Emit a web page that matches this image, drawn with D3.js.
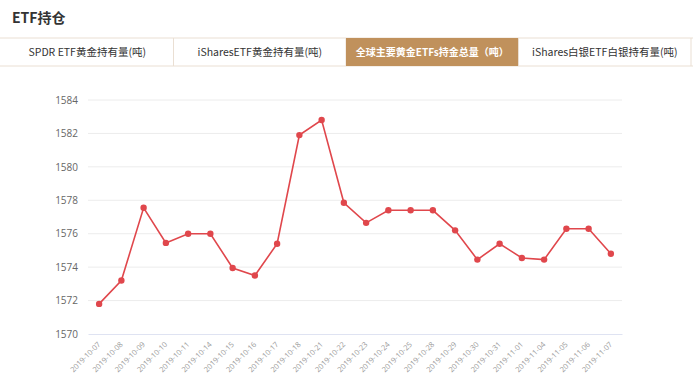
<!DOCTYPE html>
<html lang="zh">
<head>
<meta charset="UTF-8" />
<title>ETF持仓</title>
<style>
  body { margin: 0; background: #fff; font-family: "Noto Sans CJK SC", "Noto Sans", sans-serif; }
</style>
</head>
<body>
<svg id="chart" width="693" height="392"></svg>
<script src="https://d3js.org/d3.v7.min.js"></script>
<script>
  // data
  const tabs = ["SPDR ETF黄金持有量(吨)", "iSharesETF黄金持有量(吨)", "全球主要黄金ETFs持金总量（吨）", "iShares白银ETF白银持有量(吨)"];
  const dates = ["2019-10-07", "2019-10-08", "2019-10-09", "2019-10-10", "2019-10-11", "2019-10-14",
    "2019-10-15", "2019-10-16", "2019-10-17", "2019-10-18", "2019-10-21", "2019-10-22",
    "2019-10-23", "2019-10-24", "2019-10-25", "2019-10-28", "2019-10-29", "2019-10-30",
    "2019-10-31", "2019-11-01", "2019-11-04", "2019-11-05", "2019-11-06", "2019-11-07"];
  const holdings = [1571.8, 1573.2, 1577.55, 1575.45, 1576.0, 1576.0,
    1573.95, 1573.5, 1575.4, 1581.9, 1582.8, 1577.85,
    1576.65, 1577.4, 1577.4, 1577.4, 1576.2, 1574.45,
    1575.4, 1574.55, 1574.45, 1576.3, 1576.3, 1574.8];
  const yTicks = [1570, 1572, 1574, 1576, 1578, 1580, 1582, 1584];

  const svg = d3.select("#chart");

  // header
  svg.append("text")
    .attr("x", 12).attr("y", 23)
    .attr("font-size", "14px").attr("font-weight", "bold")
    .attr("fill", "#333")
    .text("ETF持仓");

  // tabs
  const tabX = d3.scaleBand().domain(d3.range(tabs.length)).range([1, 691]);
  const tabTop = 38, tabH = 28;
  svg.append("line").attr("x1", 0).attr("x2", 693).attr("y1", tabTop).attr("y2", tabTop)
    .attr("stroke", "#eadfd3");
  svg.append("line").attr("x1", 0).attr("x2", 693).attr("y1", tabTop + tabH).attr("y2", tabTop + tabH)
    .attr("stroke", "#eadfd3");
  const tab = svg.selectAll(".tab").data(tabs).enter().append("g").attr("class", "tab");
  tab.append("rect")
    .attr("x", (d, i) => tabX(i))
    .attr("y", tabTop)
    .attr("width", tabX.bandwidth())
    .attr("height", tabH)
    .attr("fill", (d, i) => i === 2 ? "#c0915c" : "none");
  tab.append("line")
    .attr("x1", (d, i) => tabX(i) + tabX.bandwidth()).attr("x2", (d, i) => tabX(i) + tabX.bandwidth())
    .attr("y1", tabTop).attr("y2", tabTop + tabH)
    .attr("stroke", "#eadfd3");
  tab.append("text")
    .attr("x", (d, i) => tabX(i) + tabX.bandwidth() / 2)
    .attr("y", tabTop + 18)
    .attr("text-anchor", "middle")
    .attr("font-size", (d, i) => i === 2 ? "10px" : "10.5px")
    .attr("font-weight", (d, i) => i === 2 ? "bold" : "normal")
    .attr("fill", (d, i) => i === 2 ? "#fff" : "#333")
    .text(d => d);

  // chart
  const plotL = 88, plotR = 622, plotT = 100, plotB = 334;
  const x = d3.scaleBand().domain(dates).range([plotL, plotR]);
  const y = d3.scaleLinear().domain([1570, 1584]).range([plotB, plotT]);

  // grid
  svg.append("g").selectAll("line").data(yTicks.slice(1)).enter().append("line")
    .attr("x1", plotL).attr("x2", plotR)
    .attr("y1", d => y(d)).attr("y2", d => y(d))
    .attr("stroke", "#ececec");

  // y axis labels
  const yAxis = d3.axisLeft(y).tickValues(yTicks).tickSize(0).tickPadding(0).tickFormat(d3.format("d"));
  const ya = svg.append("g").attr("transform", `translate(${plotL - 10},0)`).call(yAxis);
  ya.select(".domain").remove();
  ya.selectAll("text").attr("font-size", "10px").attr("fill", "#666")
    .attr("font-family", "'Open Sans', 'Noto Sans', sans-serif");

  // x axis
  const xAxis = d3.axisBottom(x).tickSize(0).tickPadding(0);
  const xa = svg.append("g").attr("transform", `translate(0,${plotB})`).call(xAxis);
  xa.select(".domain").attr("stroke", "#dfe3f2");
  xa.selectAll("text")
    .attr("font-size", "7.5px").attr("fill", "#999")
    .attr("font-family", "'Open Sans', 'Noto Sans', sans-serif")
    .attr("text-anchor", "end")
    .attr("dy", "0")
    .attr("transform", "translate(2,11) rotate(-45)");

  // line
  const line = d3.line()
    .x((d, i) => x(dates[i]) + x.bandwidth() / 2)
    .y(d => y(d));
  svg.append("path").datum(holdings)
    .attr("d", line)
    .attr("fill", "none")
    .attr("stroke", "#e0474c")
    .attr("stroke-width", 1.6);
  svg.append("g").selectAll("circle").data(holdings).enter().append("circle")
    .attr("cx", (d, i) => x(dates[i]) + x.bandwidth() / 2)
    .attr("cy", d => y(d))
    .attr("r", 3.2)
    .attr("fill", "#e0474c");
</script>
</body>
</html>
